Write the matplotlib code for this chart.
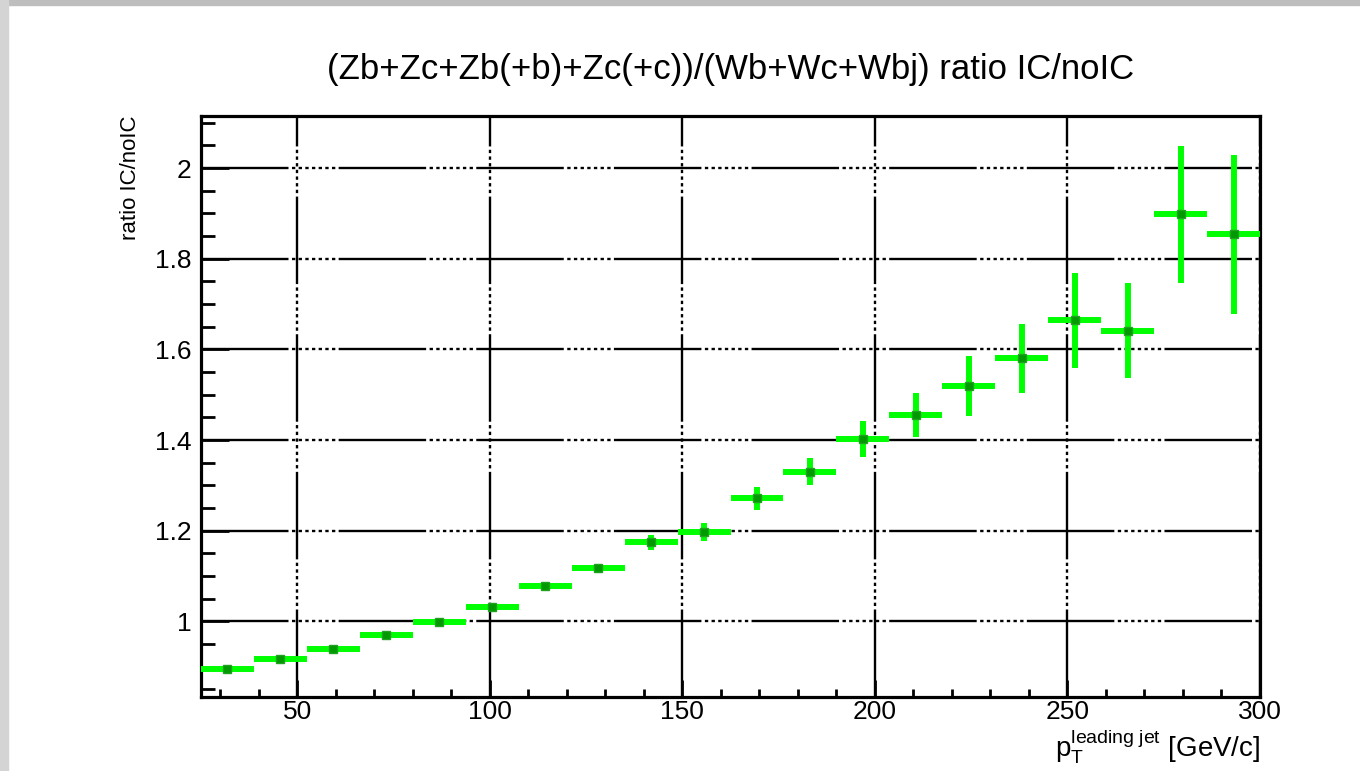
import numpy as np
import matplotlib
matplotlib.use("Agg")
import matplotlib.pyplot as plt
from matplotlib.patches import Rectangle
from matplotlib.ticker import MultipleLocator, FuncFormatter

# binning: 20 bins of leading-jet pT between 25 and 300 GeV/c
bin_lo = 25.0
bin_hi = 300.0
n_bins = 20

# ratio IC/noIC per bin, with statistical errors
ratio = [0.894, 0.916, 0.938, 0.969, 0.998, 1.032, 1.078, 1.117, 1.174, 1.197,
         1.271, 1.330, 1.402, 1.455, 1.519, 1.580, 1.664, 1.641, 1.898, 1.854]
ratio_err = [0.004, 0.004, 0.005, 0.006, 0.006, 0.007, 0.008, 0.010, 0.016, 0.020,
             0.026, 0.030, 0.040, 0.049, 0.066, 0.076, 0.105, 0.105, 0.151, 0.176]

titulo = "(Zb+Zc+Zb(+b)+Zc(+c))/(Wb+Wc+Wbj) ratio IC/noIC"
etiqueta_y = "ratio IC/noIC"

plt.rcParams['font.family'] = ['Liberation Sans', 'DejaVu Sans']
plt.rcParams['mathtext.fontset'] = 'custom'
plt.rcParams['mathtext.rm'] = 'Liberation Sans'
plt.rcParams['mathtext.it'] = 'Liberation Sans'
plt.rcParams['lines.scale_dashes'] = False

def main():
    edges = np.linspace(bin_lo, bin_hi, n_bins + 1)
    centros = 0.5 * (edges[:-1] + edges[1:])
    ancho = 0.5 * (edges[1] - edges[0])

    fig = plt.figure(figsize=(13.6, 7.71), dpi=100)
    fig.patch.set_facecolor('white')
    # marco gris del canvas
    fig.patches.append(Rectangle((0, 1 - 5 / 771), 1, 5 / 771, transform=fig.transFigure,
                                 color='#bebebe', zorder=0))
    fig.patches.append(Rectangle((0, 0), 8 / 1360, 1, transform=fig.transFigure,
                                 color='#d4d4d4', zorder=0))

    ax = fig.add_axes([201 / 1360, 74 / 771, 1059 / 1360, 581 / 771])

    # rejilla estilo ROOT
    estilo_rejilla = (0, (63, 2.5) + (2.4, 2.4) * 7)
    ax.grid(True, which='major', color='black', linewidth=1.7, linestyle=estilo_rejilla)
    ax.set_axisbelow(True)

    ax.errorbar(centros, ratio, xerr=ancho, yerr=ratio_err, fmt='s',
                color='#00ff00', ecolor='#00ff00', elinewidth=4.3, capsize=0,
                markerfacecolor='#009900', markeredgecolor='#22a022', markersize=6,
                zorder=3)

    ax.set_xlim(bin_lo, bin_hi)
    ax.set_ylim(0.833, 2.115)
    ax.xaxis.set_major_locator(MultipleLocator(50))
    ax.xaxis.set_minor_locator(MultipleLocator(10))
    ax.yaxis.set_major_locator(MultipleLocator(0.2))
    ax.yaxis.set_minor_locator(MultipleLocator(0.05))
    ax.yaxis.set_major_formatter(FuncFormatter(lambda v, p: f"{v:g}"))

    for s in ax.spines.values():
        s.set_linewidth(2.3)
    ax.tick_params(axis='both', which='both', direction='in', width=2.0,
                   labelsize=19, top=False, right=False)
    ax.tick_params(axis='x', which='major', length=12, pad=2)
    ax.tick_params(axis='x', which='minor', length=6)
    ax.tick_params(axis='y', which='major', length=20, pad=7)
    ax.tick_params(axis='y', which='minor', length=10)

    fig.text(731 / 1360, 1 - 70 / 771, titulo, ha='center', va='center', fontsize=25)
    fig.text(130 / 1360, 1 - 115 / 771, etiqueta_y, rotation=90, ha='center', va='top',
             fontsize=16)
    fig.text(1260 / 1360, 1 - 747 / 771,
             r'$\mathrm{p}_{\mathrm{T}}^{\mathrm{leading\ jet}}$ [GeV/c]',
             ha='right', va='center', fontsize=20)

    plt.savefig('out.png', dpi=100)

if __name__ == "__main__":
    main()
